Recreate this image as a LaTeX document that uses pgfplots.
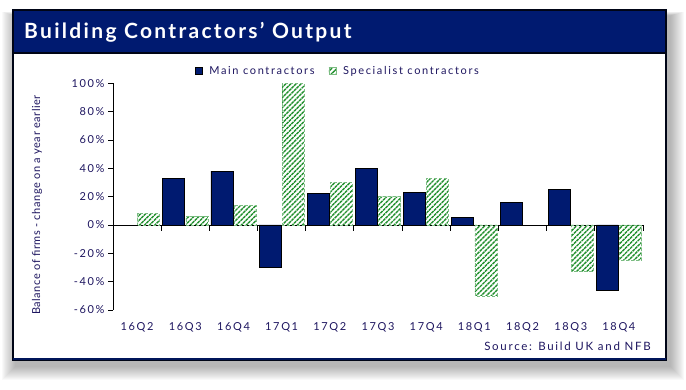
\documentclass[border=0pt]{standalone}
\usepackage{pgfplots}
\pgfplotsset{compat=1.18}
\usepackage{fontspec}
\setmainfont{Lato}
\newfontfamily\lsfont[LetterSpace=15]{Lato}
\newfontfamily\ltfont[LetterSpace=11]{Lato}
\newfontfamily\lyfont[LetterSpace=5]{Lato}
\usetikzlibrary{patterns.meta}
\definecolor{navy}{HTML}{001A70}
\definecolor{txt}{HTML}{1E1660}
\definecolor{hatch}{HTML}{23902F}
\begin{document}
\begin{tikzpicture}[x=1pt,y=1pt]
\path (0,0) rectangle (686,390);
% soft shadow
\foreach \i in {1,...,14} {
  \fill[black, opacity=0.022] (16-\i, 24-\i) rectangle (670+\i, 374+0.3*\i);
}
\fill[white] (13,30) rectangle (666,380);
\fill[navy] (13,337) rectangle (666,380);
\draw[line width=1.4pt, black!80!navy] (13,30) rectangle (666,380);
\draw[line width=1.2pt, black!80!navy] (13,337) -- (666,337);
\draw[line width=2.2pt, navy!80!black] (13,31) -- (666,31);
\node[anchor=base west, text=white, font=\ltfont\bfseries\fontsize{21}{25}\selectfont, inner sep=0pt] at (24,351) {Building Contractors’ Output};
\node[rotate=90, text=txt, font=\lyfont\fontsize{11}{12}\selectfont] at (37,185) {Balance of firms - change on a year earlier};
\node[anchor=base east, text=txt, font=\lsfont\fontsize{11.5}{13}\selectfont, inner sep=0pt] at (651,39) {Source: Build UK and NFB};
\begin{axis}[
  at={(113pt,80pt)}, anchor=south west, scale only axis,
  width=530pt, height=226.7pt,
  xmin=-0.5, xmax=10.5, ymin=-60, ymax=100,
  axis x line*=middle, axis y line*=left,
  axis line style={black, line width=0.8pt},
  tick align=outside,
  ytick={-60,-40,...,100},
  yticklabel={\pgfmathprintnumber{\tick}\%},
  /pgf/number format/assume math mode=true,
  major tick length=5pt,
  tick style={black, line width=0.8pt},
  xtick={0,1,...,10},
  xticklabels={16Q2,16Q3,16Q4,17Q1,17Q2,17Q3,17Q4,18Q1,18Q2,18Q3,18Q4},
  xtick style={draw=none},
  xticklabel style={yshift=-89.5pt},
  ticklabel style={font=\lsfont\fontsize{11}{12}\selectfont, text=txt},
  legend style={draw=none, fill=none, at={(axis description cs:0.424,1.054)}, anchor=center,
    legend columns=2, font=\lsfont\fontsize{11}{12}\selectfont, text=txt,
    /tikz/every odd column/.append style={column sep=5pt},
    /tikz/every even column/.append style={column sep=12pt}},
  legend image code/.code={\draw[#1, solid] (0pt,-3.5pt) rectangle (7pt,3.5pt);},
  clip=false,
]
\addplot[ybar, bar width=22pt, bar shift=-11.5pt, fill=navy, draw=black, line width=0.8pt]
  coordinates {(1,33) (2,38) (3,-30) (4,22) (5,40) (6,23) (7,5) (8,16) (9,25) (10,-46)};
\addlegendentry{Main contractors}
\addplot[ybar, bar width=22pt, bar shift=11.5pt, draw=hatch!60, densely dashed, line width=0.5pt,
  pattern={Lines[angle=45, distance=3.6pt, line width=1.4pt]}, pattern color=hatch]
  coordinates {(0,8) (1,6) (2,14) (3,100) (4,30) (5,20) (6,33) (7,-50) (9,-33) (10,-25)};
\addlegendentry{Specialist contractors}
\pgfplotsinvokeforeach{-0.5,0.5,1.5,2.5,3.5,4.5,5.5,6.5,7.5,8.5,9.5,10.5}{
  \draw[black, line width=1pt] (axis cs:#1,0) -- ++(0pt,-6pt);
}
\end{axis}
\end{tikzpicture}
\end{document}
